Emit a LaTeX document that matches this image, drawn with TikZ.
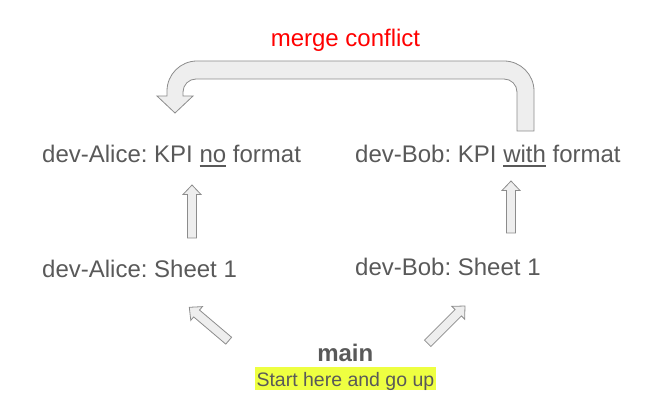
\documentclass[tikz,border=0pt]{standalone}
\usepackage{fontspec}
\setmainfont{Liberation Sans}
\usetikzlibrary{calc}
\definecolor{labelgray}{HTML}{595959}
\definecolor{arrowfill}{HTML}{EEEEEE}
\definecolor{arrowedge}{HTML}{8C8C8C}
\definecolor{conflictred}{HTML}{FF0000}
\definecolor{notemark}{HTML}{EEFF41}
\newcommand{\ulword}[1]{\setbox0\hbox{#1}\rlap{\rule[-4.2pt]{\wd0}{1.8pt}}\box0\relax}
\frenchspacing

\begin{document}
\begin{tikzpicture}[x=1pt,y=1pt,
  branch/.style={anchor=base west,inner sep=0pt,text=labelgray,
    font=\fontsize{24}{28}\selectfont},
  blockarrow/.style={fill=arrowfill,draw=arrowedge,line width=0.8pt,line join=miter}]
  \useasboundingbox (0,0) rectangle (665,402);

  % Branch labels (baselines in pt, origin bottom left).
  \node[branch] (aliceKpi) at (42,239.3) {dev-Alice: KPI \ulword{no} format};
  \node[branch] (bobKpi) at (355,239.3) {dev-Bob: KPI \ulword{with} format};
  \node[branch] (aliceSheet) at (42,124) {dev-Alice: Sheet 1};
  \node[branch] (bobSheet) at (355,126) {dev-Bob: Sheet 1};

  % Starting branch and note.
  \node[anchor=base,inner sep=0pt,text=labelgray,
    font=\fontsize{24}{28}\selectfont\bfseries] (main) at (345.3,40.3) {main};
  \node[anchor=base,inner xsep=1.5pt,inner ysep=0pt,fill=notemark,
    text height=19.7pt,text depth=3.3pt,text=labelgray,
    font=\fontsize{19.5}{23}\selectfont] (startNote) at (345.4,15.3)
    {Start here and go up};

  % Conflict label.
  \node[anchor=base,inner sep=0pt,text=conflictred,
    font=\fontsize{24}{28}\selectfont] (conflict) at (345.5,355.3) {merge conflict};

  % Straight block arrows: tail and tip of each.
  \coordinate (aliceUpTail) at (192,164);
  \coordinate (aliceUpTip) at (192,217);
  \coordinate (bobUpTail) at (511,169);
  \coordinate (bobUpTip) at (511,221);
  \coordinate (mainAliceTail) at (228.7,61.3);
  \coordinate (mainAliceTip) at (189.3,94.7);
  \coordinate (mainBobTail) at (427.7,58.7);
  \coordinate (mainBobTip) at (465,96);

  \foreach \f/\t in {aliceUpTail/aliceUpTip,bobUpTail/bobUpTip,
                     mainAliceTail/mainAliceTip,mainBobTail/mainBobTip} {
    \draw[blockarrow] let \p1=($(\t)-(\f)$), \n1={atan2(\y1,\x1)},
        \n2={veclen(\x1,\y1)-9.5} in
      ($(\f)+(\n1-90:4.5)$) -- ($(\f)+(\n1:\n2)+(\n1-90:4.5)$)
      -- ($(\f)+(\n1:\n2)+(\n1-90:9)$) -- (\t)
      -- ($(\f)+(\n1:\n2)+(\n1+90:9)$) -- ($(\f)+(\n1:\n2)+(\n1+90:4.5)$)
      -- ($(\f)+(\n1+90:4.5)$) -- cycle;
  }

  % Merge-conflict return arrow from Bob back to Alice.
  \draw[blockarrow] (534,271) -- (534,311) arc[start angle=0,end angle=90,radius=30]
    -- (197,341) arc[start angle=90,end angle=180,radius=30]
    -- (167,306) -- (157,306) -- (175,289) -- (193,306) -- (183,306)
    -- (183,310) arc[start angle=180,end angle=90,radius=13]
    -- (504,323) arc[start angle=90,end angle=0,radius=13]
    -- (517,271) -- cycle;
\end{tikzpicture}
\end{document}
